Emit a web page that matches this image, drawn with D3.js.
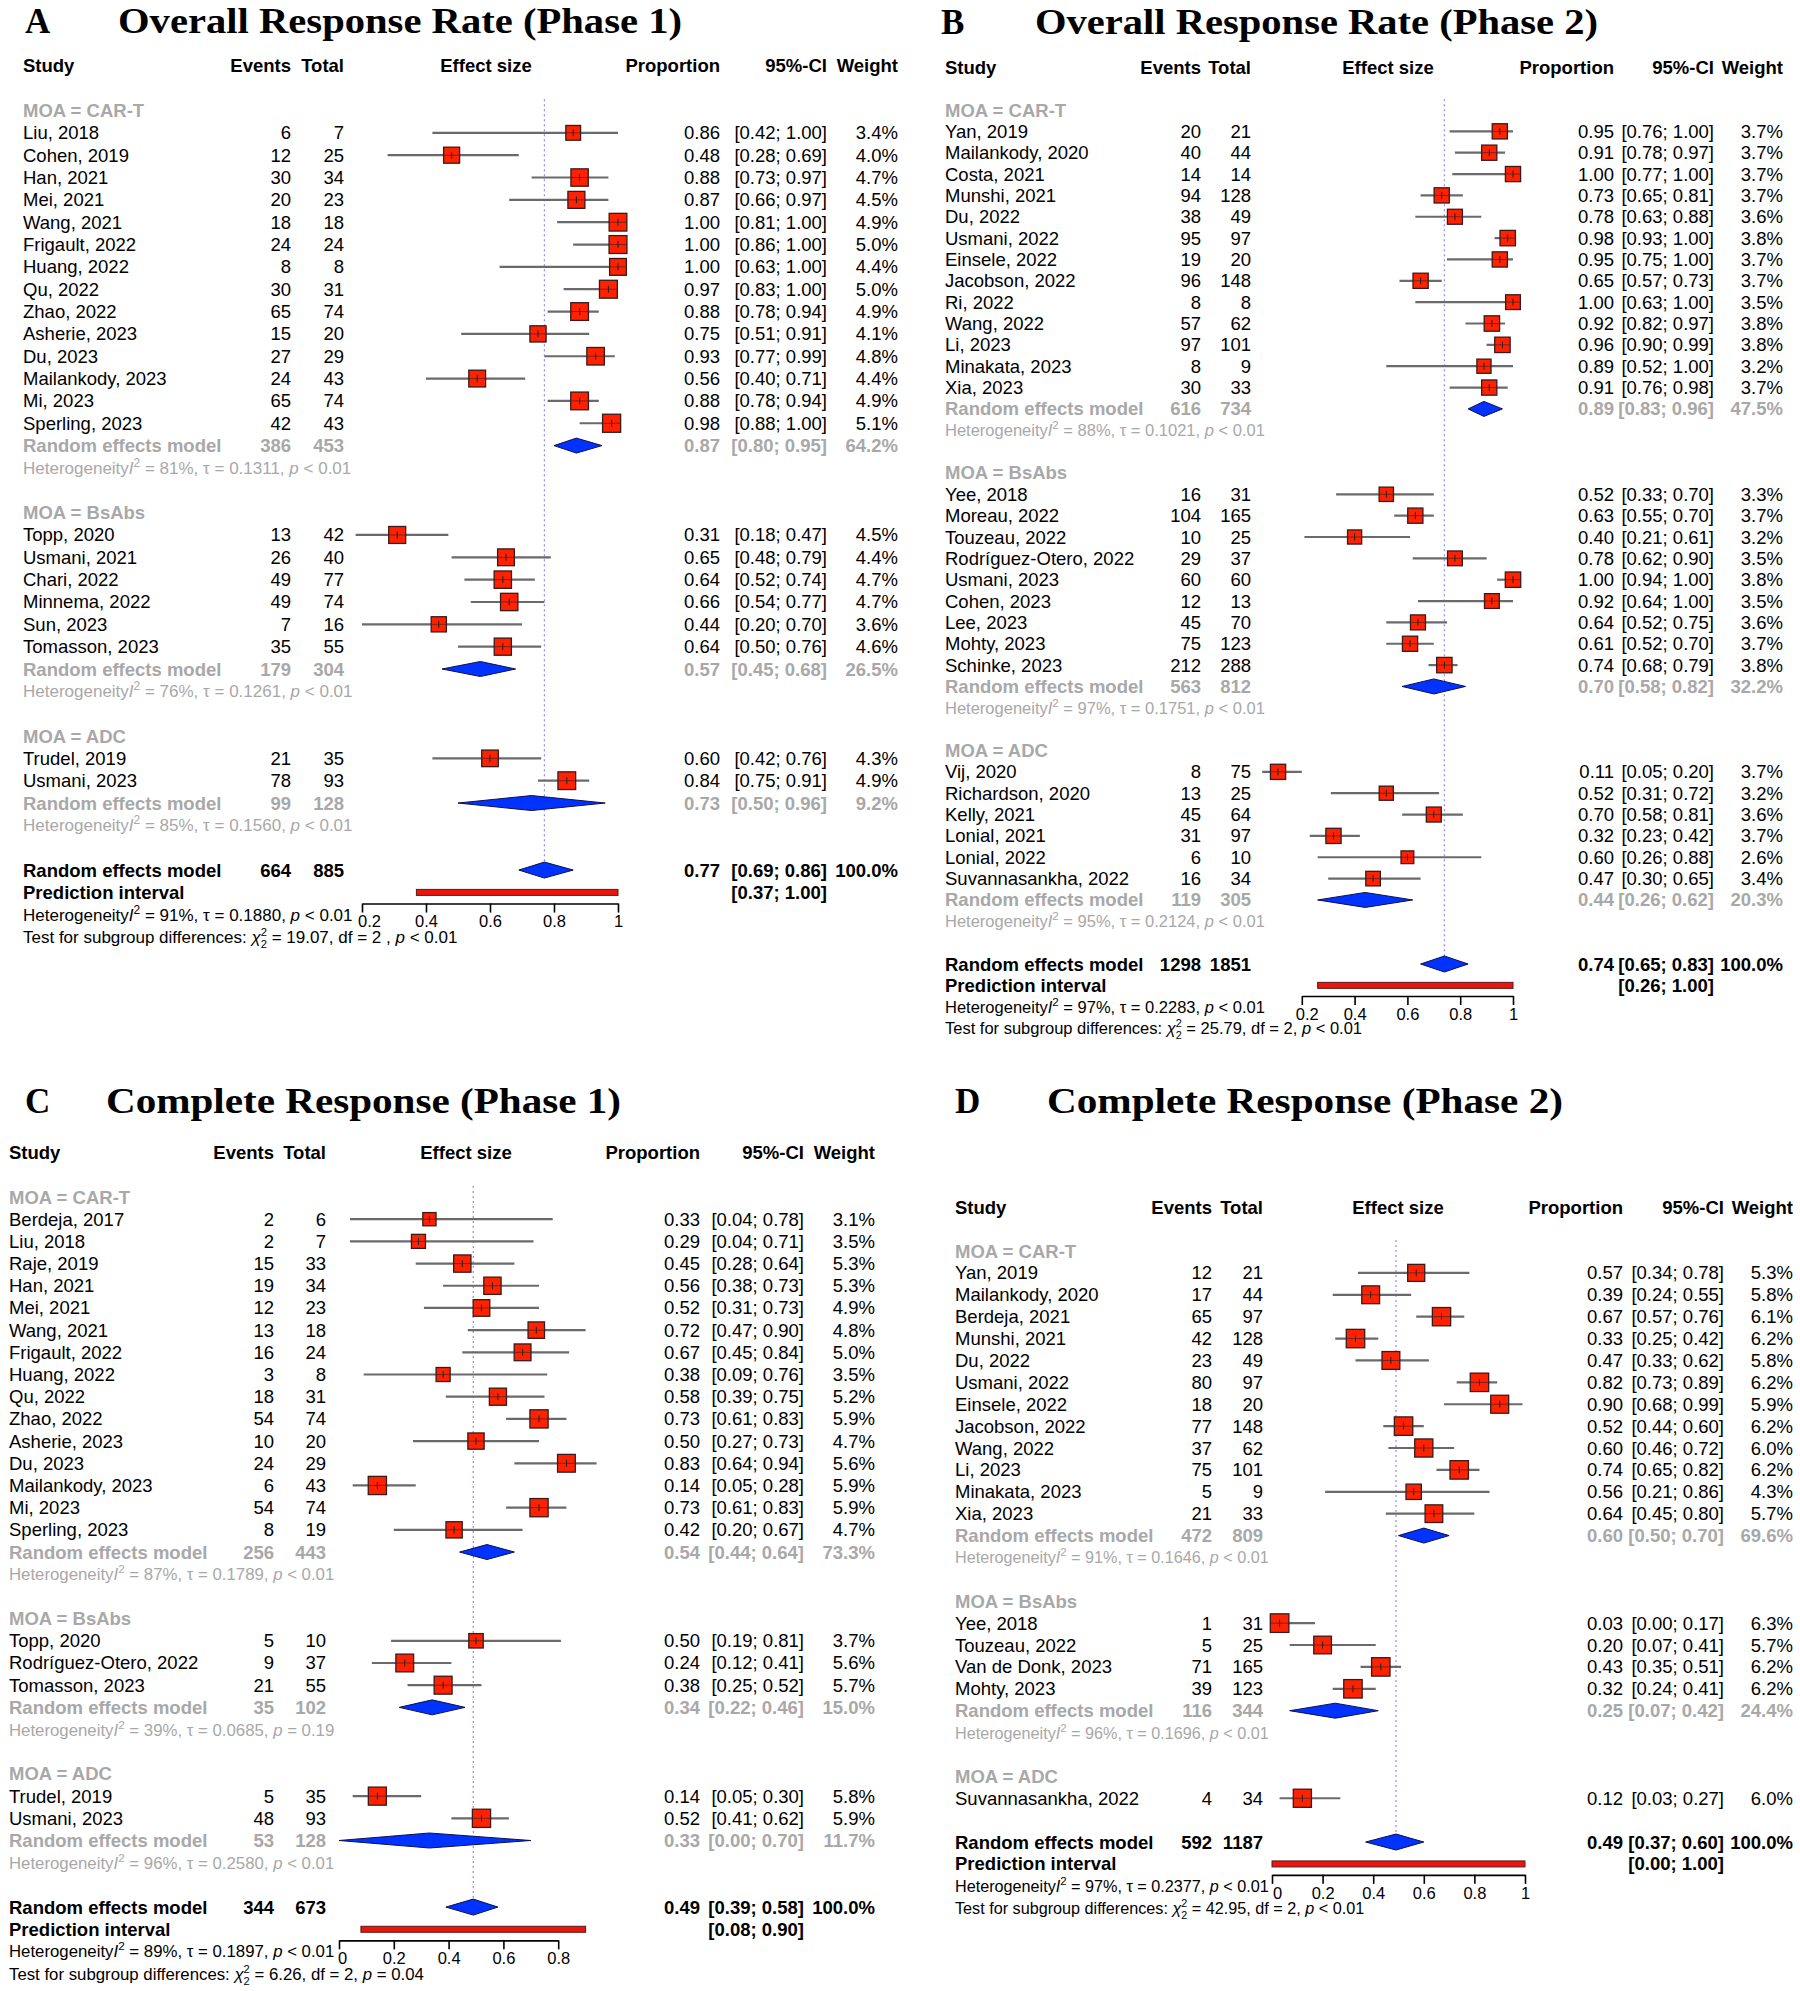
<!DOCTYPE html>
<html><head><meta charset="utf-8">
<script src="https://cdn.jsdelivr.net/npm/d3@7"></script>
<style>
body{margin:0;background:#fff}
svg{display:block}
text{font-family:"Liberation Sans",Arial,sans-serif}
.ttl{font-family:"Liberation Serif","Times New Roman",serif;font-weight:bold;font-size:35px;fill:#000}
</style></head>
<body><svg id="c" width="1800" height="1991"></svg>
<script>
// ---------------- DATA ----------------
const groupOrder = ["CAR-T", "BsAbs", "ADC"];

// Panel A: Overall Response Rate (Phase 1) — [group, study, events, total, prop, lower, upper, weight]
const studiesA = [
  ["CAR-T","Liu, 2018",6,7,0.86,0.42,1.00,3.4],
  ["CAR-T","Cohen, 2019",12,25,0.48,0.28,0.69,4.0],
  ["CAR-T","Han, 2021",30,34,0.88,0.73,0.97,4.7],
  ["CAR-T","Mei, 2021",20,23,0.87,0.66,0.97,4.5],
  ["CAR-T","Wang, 2021",18,18,1.00,0.81,1.00,4.9],
  ["CAR-T","Frigault, 2022",24,24,1.00,0.86,1.00,5.0],
  ["CAR-T","Huang, 2022",8,8,1.00,0.63,1.00,4.4],
  ["CAR-T","Qu, 2022",30,31,0.97,0.83,1.00,5.0],
  ["CAR-T","Zhao, 2022",65,74,0.88,0.78,0.94,4.9],
  ["CAR-T","Asherie, 2023",15,20,0.75,0.51,0.91,4.1],
  ["CAR-T","Du, 2023",27,29,0.93,0.77,0.99,4.8],
  ["CAR-T","Mailankody, 2023",24,43,0.56,0.40,0.71,4.4],
  ["CAR-T","Mi, 2023",65,74,0.88,0.78,0.94,4.9],
  ["CAR-T","Sperling, 2023",42,43,0.98,0.88,1.00,5.1],
  ["BsAbs","Topp, 2020",13,42,0.31,0.18,0.47,4.5],
  ["BsAbs","Usmani, 2021",26,40,0.65,0.48,0.79,4.4],
  ["BsAbs","Chari, 2022",49,77,0.64,0.52,0.74,4.7],
  ["BsAbs","Minnema, 2022",49,74,0.66,0.54,0.77,4.7],
  ["BsAbs","Sun, 2023",7,16,0.44,0.20,0.70,3.6],
  ["BsAbs","Tomasson, 2023",35,55,0.64,0.50,0.76,4.6],
  ["ADC","Trudel, 2019",21,35,0.60,0.42,0.76,4.3],
  ["ADC","Usmani, 2023",78,93,0.84,0.75,0.91,4.9]
];
// [group, events, total, prop, lower, upper, weight, I2, tau, p]
const pooledA = [
  ["CAR-T",386,453,0.87,0.80,0.95,64.2,"81%","0.1311","< 0.01"],
  ["BsAbs",179,304,0.57,0.45,0.68,26.5,"76%","0.1261","< 0.01"],
  ["ADC",99,128,0.73,0.50,0.96,9.2,"85%","0.1560","< 0.01"]
];
// [events, total, prop, lower, upper, weight, predLower, predUpper, I2, tau, p]
const overallA = [664,885,0.77,0.69,0.86,100.0,0.37,1.00,"91%","0.1880","< 0.01"];
const testA = ["19.07","2","< 0.01"," "];
const ticksA = [0.2,0.4,0.6,0.8,1];

// Panel B: Overall Response Rate (Phase 2)
const studiesB = [
  ["CAR-T","Yan, 2019",20,21,0.95,0.76,1.00,3.7],
  ["CAR-T","Mailankody, 2020",40,44,0.91,0.78,0.97,3.7],
  ["CAR-T","Costa, 2021",14,14,1.00,0.77,1.00,3.7],
  ["CAR-T","Munshi, 2021",94,128,0.73,0.65,0.81,3.7],
  ["CAR-T","Du, 2022",38,49,0.78,0.63,0.88,3.6],
  ["CAR-T","Usmani, 2022",95,97,0.98,0.93,1.00,3.8],
  ["CAR-T","Einsele, 2022",19,20,0.95,0.75,1.00,3.7],
  ["CAR-T","Jacobson, 2022",96,148,0.65,0.57,0.73,3.7],
  ["CAR-T","Ri, 2022",8,8,1.00,0.63,1.00,3.5],
  ["CAR-T","Wang, 2022",57,62,0.92,0.82,0.97,3.8],
  ["CAR-T","Li, 2023",97,101,0.96,0.90,0.99,3.8],
  ["CAR-T","Minakata, 2023",8,9,0.89,0.52,1.00,3.2],
  ["CAR-T","Xia, 2023",30,33,0.91,0.76,0.98,3.7],
  ["BsAbs","Yee, 2018",16,31,0.52,0.33,0.70,3.3],
  ["BsAbs","Moreau, 2022",104,165,0.63,0.55,0.70,3.7],
  ["BsAbs","Touzeau, 2022",10,25,0.40,0.21,0.61,3.2],
  ["BsAbs","Rodríguez-Otero, 2022",29,37,0.78,0.62,0.90,3.5],
  ["BsAbs","Usmani, 2023",60,60,1.00,0.94,1.00,3.8],
  ["BsAbs","Cohen, 2023",12,13,0.92,0.64,1.00,3.5],
  ["BsAbs","Lee, 2023",45,70,0.64,0.52,0.75,3.6],
  ["BsAbs","Mohty, 2023",75,123,0.61,0.52,0.70,3.7],
  ["BsAbs","Schinke, 2023",212,288,0.74,0.68,0.79,3.8],
  ["ADC","Vij, 2020",8,75,0.11,0.05,0.20,3.7],
  ["ADC","Richardson, 2020",13,25,0.52,0.31,0.72,3.2],
  ["ADC","Kelly, 2021",45,64,0.70,0.58,0.81,3.6],
  ["ADC","Lonial, 2021",31,97,0.32,0.23,0.42,3.7],
  ["ADC","Lonial, 2022",6,10,0.60,0.26,0.88,2.6],
  ["ADC","Suvannasankha, 2022",16,34,0.47,0.30,0.65,3.4]
];
const pooledB = [
  ["CAR-T",616,734,0.89,0.83,0.96,47.5,"88%","0.1021","< 0.01"],
  ["BsAbs",563,812,0.70,0.58,0.82,32.2,"97%","0.1751","< 0.01"],
  ["ADC",119,305,0.44,0.26,0.62,20.3,"95%","0.2124","< 0.01"]
];
const overallB = [1298,1851,0.74,0.65,0.83,100.0,0.26,1.00,"97%","0.2283","< 0.01"];
const testB = ["25.79","2","< 0.01",""];
const ticksB = [0.2,0.4,0.6,0.8,1];

// Panel C: Complete Response (Phase 1)
const studiesC = [
  ["CAR-T","Berdeja, 2017",2,6,0.33,0.04,0.78,3.1],
  ["CAR-T","Liu, 2018",2,7,0.29,0.04,0.71,3.5],
  ["CAR-T","Raje, 2019",15,33,0.45,0.28,0.64,5.3],
  ["CAR-T","Han, 2021",19,34,0.56,0.38,0.73,5.3],
  ["CAR-T","Mei, 2021",12,23,0.52,0.31,0.73,4.9],
  ["CAR-T","Wang, 2021",13,18,0.72,0.47,0.90,4.8],
  ["CAR-T","Frigault, 2022",16,24,0.67,0.45,0.84,5.0],
  ["CAR-T","Huang, 2022",3,8,0.38,0.09,0.76,3.5],
  ["CAR-T","Qu, 2022",18,31,0.58,0.39,0.75,5.2],
  ["CAR-T","Zhao, 2022",54,74,0.73,0.61,0.83,5.9],
  ["CAR-T","Asherie, 2023",10,20,0.50,0.27,0.73,4.7],
  ["CAR-T","Du, 2023",24,29,0.83,0.64,0.94,5.6],
  ["CAR-T","Mailankody, 2023",6,43,0.14,0.05,0.28,5.9],
  ["CAR-T","Mi, 2023",54,74,0.73,0.61,0.83,5.9],
  ["CAR-T","Sperling, 2023",8,19,0.42,0.20,0.67,4.7],
  ["BsAbs","Topp, 2020",5,10,0.50,0.19,0.81,3.7],
  ["BsAbs","Rodríguez-Otero, 2022",9,37,0.24,0.12,0.41,5.6],
  ["BsAbs","Tomasson, 2023",21,55,0.38,0.25,0.52,5.7],
  ["ADC","Trudel, 2019",5,35,0.14,0.05,0.30,5.8],
  ["ADC","Usmani, 2023",48,93,0.52,0.41,0.62,5.9]
];
const pooledC = [
  ["CAR-T",256,443,0.54,0.44,0.64,73.3,"87%","0.1789","< 0.01"],
  ["BsAbs",35,102,0.34,0.22,0.46,15.0,"39%","0.0685","= 0.19"],
  ["ADC",53,128,0.33,0.00,0.70,11.7,"96%","0.2580","< 0.01"]
];
const overallC = [344,673,0.49,0.39,0.58,100.0,0.08,0.90,"89%","0.1897","< 0.01"];
const testC = ["6.26","2","= 0.04",""];
const ticksC = [0,0.2,0.4,0.6,0.8];

// Panel D: Complete Response (Phase 2)
const studiesD = [
  ["CAR-T","Yan, 2019",12,21,0.57,0.34,0.78,5.3],
  ["CAR-T","Mailankody, 2020",17,44,0.39,0.24,0.55,5.8],
  ["CAR-T","Berdeja, 2021",65,97,0.67,0.57,0.76,6.1],
  ["CAR-T","Munshi, 2021",42,128,0.33,0.25,0.42,6.2],
  ["CAR-T","Du, 2022",23,49,0.47,0.33,0.62,5.8],
  ["CAR-T","Usmani, 2022",80,97,0.82,0.73,0.89,6.2],
  ["CAR-T","Einsele, 2022",18,20,0.90,0.68,0.99,5.9],
  ["CAR-T","Jacobson, 2022",77,148,0.52,0.44,0.60,6.2],
  ["CAR-T","Wang, 2022",37,62,0.60,0.46,0.72,6.0],
  ["CAR-T","Li, 2023",75,101,0.74,0.65,0.82,6.2],
  ["CAR-T","Minakata, 2023",5,9,0.56,0.21,0.86,4.3],
  ["CAR-T","Xia, 2023",21,33,0.64,0.45,0.80,5.7],
  ["BsAbs","Yee, 2018",1,31,0.03,0.00,0.17,6.3],
  ["BsAbs","Touzeau, 2022",5,25,0.20,0.07,0.41,5.7],
  ["BsAbs","Van de Donk, 2023",71,165,0.43,0.35,0.51,6.2],
  ["BsAbs","Mohty, 2023",39,123,0.32,0.24,0.41,6.2],
  ["ADC","Suvannasankha, 2022",4,34,0.12,0.03,0.27,6.0]
];
const pooledD = [
  ["CAR-T",472,809,0.60,0.50,0.70,69.6,"91%","0.1646","< 0.01"],
  ["BsAbs",116,344,0.25,0.07,0.42,24.4,"96%","0.1696","< 0.01"]
];
const overallD = [592,1187,0.49,0.37,0.60,100.0,0.00,1.00,"97%","0.2377","< 0.01"];
const testD = ["42.95","2","< 0.01",""];
const ticksD = [0,0.2,0.4,0.6,0.8,1];

const panelLetters = ["A","B","C","D"];
const panelTitles = ["Overall Response Rate (Phase 1)","Overall Response Rate (Phase 2)","Complete Response (Phase 1)","Complete Response (Phase 2)"];
const headers = ["Study","Events","Total","Effect size","Proportion","95%-CI","Weight"];

// ---------------- LAYOUT (positions only) ----------------
const layouts = [
  {letterX:25, titleX:118, titleW:564, titleY:33, textX:23, evR:291, totR:344, effC:486, propR:720, ciR:827, wR:898, x0:298, x1:618, r0:110.5, step:22.34, k:8.0, hs:17.0, dx0:7},
  {letterX:941, titleX:1035, titleW:563, titleY:34, textX:945, evR:1201, totR:1251, effC:1388, propR:1614, ciR:1714, wR:1783, x0:1249, x1:1513, r0:110, step:21.35, k:7.9, hs:16.5, dx0:5},
  {letterX:25, titleX:106, titleW:515, titleY:1113, textX:9, evR:274, totR:326, effC:466, propR:700, ciR:804, wR:875, x0:339, x1:613, r0:1197, step:22.19, k:7.5, hs:16.8, dx0:3},
  {letterX:955, titleX:1047, titleW:516, titleY:1113, textX:955, evR:1212, totR:1263, effC:1398, propR:1623, ciR:1724, wR:1793, x0:1272, x1:1525, r0:1251, step:21.89, k:7.4, hs:16.2, dx0:5}
];
const panelData = [
  [studiesA, pooledA, overallA, testA, ticksA],
  [studiesB, pooledB, overallB, testB, ticksB],
  [studiesC, pooledC, overallC, testC, ticksC],
  [studiesD, pooledD, overallD, testD, ticksD]
];

const FS = 18.5, BL = 6.5, BL2 = 6;
const GRAY = "#a8a8a8";
const BOX = "#ff2200", DIA = "#0033ff";
const f2 = d3.format(".2f"), f1 = d3.format(".1f");
const ci = (l,h) => "[" + f2(l) + "; " + f2(h) + "]";

const svg = d3.select("#c");
svg.append("rect").attr("width",1800).attr("height",1991).attr("fill","#fff");

function txt(g, x, y, s, opt) {
  opt = opt || {};
  return g.append("text").attr("x", x).attr("y", y)
    .attr("font-size", opt.size || FS)
    .attr("font-weight", opt.bold ? "bold" : "normal")
    .attr("fill", opt.color || "#000")
    .attr("text-anchor", opt.anchor || "start")
    .text(s);
}

function het(g, x, y, i2, tau, p, color, fs) {
  const t = g.append("text").attr("x", x).attr("y", y).attr("font-size", fs).attr("fill", color);
  t.append("tspan").text("Heterogeneity");
  t.append("tspan").attr("font-style","italic").text("I");
  t.append("tspan").attr("dy",-7).attr("font-size",fs*0.7).text("2");
  t.append("tspan").attr("dy",7).text(" = " + i2 + ", \u03C4 = " + tau + ", ");
  t.append("tspan").attr("font-style","italic").text("p");
  t.append("tspan").text(" " + p);
}

function testLine(g, x, y, T, fs) {
  const t = g.append("text").attr("x", x).attr("y", y).attr("font-size", fs).attr("fill", "#000");
  t.append("tspan").text("Test for subgroup differences: ");
  t.append("tspan").attr("font-style","italic").text("\u03C7");
  t.append("tspan").attr("dy",-7).attr("font-size",fs*0.66).text("2");
  t.append("tspan").attr("dx",-fs*0.66*0.556).attr("dy",12).attr("font-size",fs*0.66).text("2");
  t.append("tspan").attr("dy",-5).text(" = " + T[0] + ", df = " + T[1] + T[3] + ", ");
  t.append("tspan").attr("font-style","italic").text("p");
  t.append("tspan").text(" " + T[2]);
}

panelData.forEach((D, pi) => {
  const [studies, pooled, overall, test, ticks] = D;
  const L = layouts[pi];
  const g = svg.append("g");
  const x = d3.scaleLinear().domain([0,1]).range([L.x0, L.x1]);
  const rowY = i => L.r0 + i * L.step;

  // title
  g.append("text").attr("class","ttl").attr("x",L.letterX).attr("y",L.titleY).text(panelLetters[pi]);
  g.append("text").attr("class","ttl").attr("x",L.titleX).attr("y",L.titleY)
    .attr("textLength",L.titleW).attr("lengthAdjust","spacingAndGlyphs").text(panelTitles[pi]);

  // header
  const hy = rowY(-2) + BL;
  const hx = [[L.textX,"start"],[L.evR,"end"],[L.totR,"end"],[L.effC,"middle"],[L.propR,"end"],[L.ciR,"end"],[L.wR,"end"]];
  headers.forEach((h,i) => txt(g, hx[i][0], hy, h, {bold:true, anchor:hx[i][1]}));

  // build rows
  const rows = [];
  let r = 0;
  groupOrder.forEach(gn => {
    rows.push({type:"moa", r:r++, name:gn});
    studies.filter(s => s[0] === gn).forEach(s => rows.push({type:"study", r:r++, s}));
    const pl = pooled.find(p => p[0] === gn);
    if (pl) { rows.push({type:"pooled", r:r++, p:pl}); rows.push({type:"het", r:r++, p:pl}); }
    r++;
  });
  const rOverall = r;

  // reference dashed line at overall estimate
  g.append("line").attr("x1", x(overall[2])).attr("x2", x(overall[2]))
    .attr("y1", rowY(0) - 0.5 * L.step).attr("y2", rowY(rOverall) - 7)
    .attr("stroke","#8c8cff").attr("stroke-width",1.2).attr("stroke-dasharray","2,3");

  rows.forEach(row => {
    const y = rowY(row.r);
    if (row.type === "moa") {
      txt(g, L.textX, y + BL, "MOA = " + row.name, {bold:true, color:GRAY});
    } else if (row.type === "study") {
      const [, name, ev, tot, p, lo, hi, w] = row.s;
      txt(g, L.textX, y + BL, name);
      txt(g, L.evR, y + BL, ev, {anchor:"end"});
      txt(g, L.totR, y + BL, tot, {anchor:"end"});
      txt(g, L.propR, y + BL, f2(p), {anchor:"end"});
      txt(g, L.ciR, y + BL, ci(lo,hi), {anchor:"end"});
      txt(g, L.wR, y + BL, f1(w) + "%", {anchor:"end"});
      g.append("line").attr("x1",x(lo)).attr("x2",x(hi)).attr("y1",y).attr("y2",y)
        .attr("stroke","#6a6a6a").attr("stroke-width",2.2);
      const s = L.k * Math.sqrt(w);
      g.append("rect").attr("x",x(p)-s/2).attr("y",y-s/2).attr("width",s).attr("height",s)
        .attr("fill",BOX).attr("stroke","#3a1a1a").attr("stroke-width",1.3);
      g.append("line").attr("x1",x(p)-s/2).attr("x2",x(p)+s/2).attr("y1",y).attr("y2",y)
        .attr("stroke","#552222").attr("stroke-width",0.8);
      g.append("line").attr("x1",x(p)).attr("x2",x(p)).attr("y1",y-3.5).attr("y2",y+3.5)
        .attr("stroke","#222").attr("stroke-width",1);
    } else if (row.type === "pooled") {
      const [, ev, tot, p, lo, hi, w] = row.p;
      const o = {bold:true, color:GRAY};
      txt(g, L.textX, y + BL, "Random effects model", o);
      txt(g, L.evR, y + BL, ev, Object.assign({anchor:"end"}, o));
      txt(g, L.totR, y + BL, tot, Object.assign({anchor:"end"}, o));
      txt(g, L.propR, y + BL, f2(p), Object.assign({anchor:"end"}, o));
      txt(g, L.ciR, y + BL, ci(lo,hi), Object.assign({anchor:"end"}, o));
      txt(g, L.wR, y + BL, f1(w) + "%", Object.assign({anchor:"end"}, o));
      g.append("path").attr("d", `M${x(lo)},${y} L${x(p)},${y-7.5} L${x(hi)},${y} L${x(p)},${y+7.5} Z`)
        .attr("fill",DIA).attr("stroke","#10104a").attr("stroke-width",1);
    } else if (row.type === "het") {
      het(g, L.textX, y + BL2, row.p[7], row.p[8], row.p[9], GRAY, L.hs);
    }
  });

  // overall
  const [oev, otot, op, olo, ohi, ow, plo, phi, oi2, otau, opv] = overall;
  const yo = rowY(rOverall);
  txt(g, L.textX, yo + BL, "Random effects model", {bold:true});
  txt(g, L.evR, yo + BL, oev, {bold:true, anchor:"end"});
  txt(g, L.totR, yo + BL, otot, {bold:true, anchor:"end"});
  txt(g, L.propR, yo + BL, f2(op), {bold:true, anchor:"end"});
  txt(g, L.ciR, yo + BL, ci(olo,ohi), {bold:true, anchor:"end"});
  txt(g, L.wR, yo + BL, f1(ow) + "%", {bold:true, anchor:"end"});
  g.append("path").attr("d", `M${x(olo)},${yo} L${x(op)},${yo-8} L${x(ohi)},${yo} L${x(op)},${yo+8} Z`)
    .attr("fill",DIA).attr("stroke","#10104a").attr("stroke-width",1);

  const yp = rowY(rOverall + 1);
  txt(g, L.textX, yp + BL, "Prediction interval", {bold:true});
  txt(g, L.ciR, yp + BL, ci(plo,phi), {bold:true, anchor:"end"});
  g.append("rect").attr("x",x(plo)).attr("y",yp-3).attr("width",x(phi)-x(plo)).attr("height",6)
    .attr("fill","#e8160c").attr("stroke","#5a1a1a").attr("stroke-width",1);

  het(g, L.textX, rowY(rOverall + 2) + BL2, oi2, otau, opv, "#000", L.hs);
  testLine(g, L.textX, rowY(rOverall + 3) + BL2, test, L.hs);

  // axis
  const ax = d3.scaleLinear().domain([ticks[0], ticks[ticks.length-1]])
    .range([x(ticks[0]), x(ticks[ticks.length-1])]);
  const axisY = yp + 0.5 * L.step;
  const axg = g.append("g").attr("transform", `translate(0,${axisY})`)
    .call(d3.axisBottom(ax).tickValues(ticks).tickSize(9).tickSizeOuter(0)
      .tickFormat(d => (d === 0 || d === 1) ? String(d) : d3.format(".1f")(d)));
  axg.select(".domain").attr("stroke","#000").attr("stroke-width",1.6);
  axg.selectAll(".tick line").attr("stroke","#000").attr("stroke-width",1.6);
  axg.selectAll(".tick text").attr("font-size",16.5).attr("fill","#000")
    .attr("font-family","Liberation Sans, Arial, sans-serif")
    .attr("dx", (d,i) => i === 0 ? L.dx0 : 0);
});
</script>
</body></html>
